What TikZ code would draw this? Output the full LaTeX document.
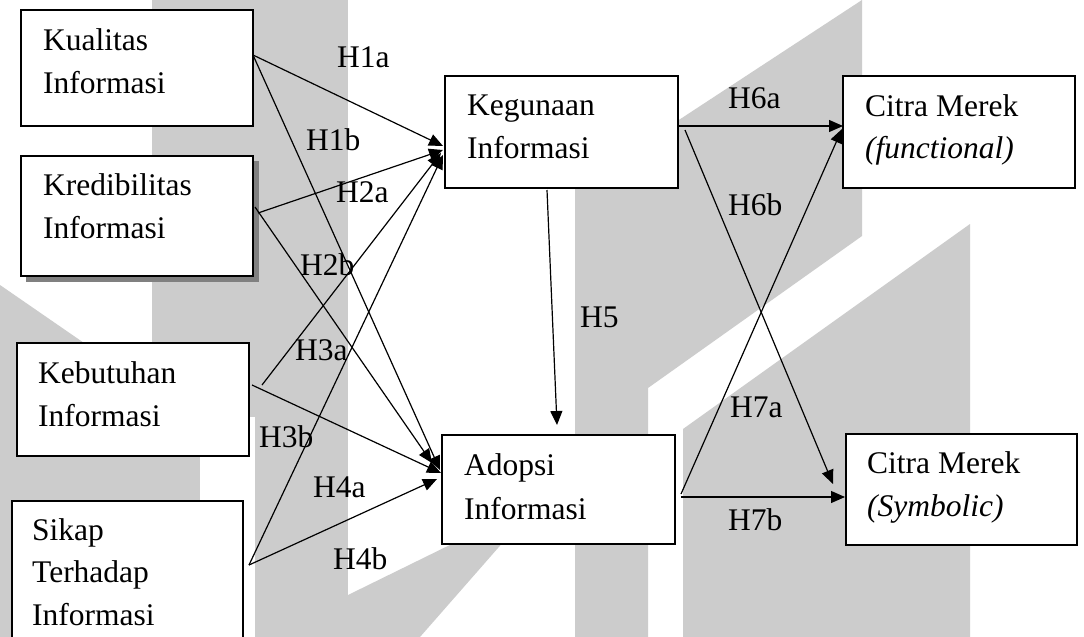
\documentclass[tikz,border=0pt]{standalone}
\usepackage{fontspec}
\setmainfont{Liberation Serif}
\usetikzlibrary{arrows.meta}
\definecolor{wm}{HTML}{CCCCCC}
\definecolor{shadowgray}{HTML}{808080}
\begin{document}
\begin{tikzpicture}[x=1pt,y=-1pt,
  box/.style={draw=black,line width=1.4pt,fill=white,inner sep=0pt},
  txt/.style={anchor=base west,inner sep=0pt,font=\fontsize{31.5}{40}\selectfont},
  arr/.style={line width=1.2pt,-{Triangle[length=14pt,width=12pt]}},
]
\useasboundingbox (0,0) rectangle (1084,637);
\fill[white] (0,0) rectangle (1084,637);
% watermark
\fill[wm] (152,0) rectangle (348,637);
\fill[wm] (0,285) -- (200,423) -- (200,637) -- (0,637) -- cycle;
\fill[white] (200,417) rectangle (255,637);
\fill[wm] (348,595) -- (460,540) -- (505,540) -- (420,637) -- (348,637) -- cycle;
\fill[wm] (575,188) -- (862,0) -- (862,236) -- (648,388) -- (648,637) -- (575,637) -- cycle;
\fill[wm] (683,429) -- (970,224) -- (970,637) -- (683,637) -- cycle;

% shadow of Kredibilitas
\fill[shadowgray] (26,161) rectangle (259,282);

% boxes
\node[box,minimum width=232pt,minimum height=116pt] (kual) at (137,68) {};
\node[box,minimum width=232pt,minimum height=120pt] (kred) at (137,216) {};
\node[box,minimum width=232pt,minimum height=113pt] (kebu) at (133,399.5) {};
\node[box,minimum width=231pt,minimum height=142pt] (sikap) at (127.5,572) {};
\node[box,minimum width=233pt,minimum height=112pt] (keg) at (561.5,132) {};
\node[box,minimum width=232pt,minimum height=112pt] (citf) at (959,132) {};
\node[box,minimum width=233pt,minimum height=109pt] (adop) at (558.5,489.5) {};
\node[box,minimum width=231pt,minimum height=111pt] (cits) at (961.5,489.5) {};

% box texts
\node[txt] (kual1) at (43,50) {Kualitas};
\node[txt] (kual2) at (43,93) {Informasi};
\node[txt] (kred1) at (43,195) {Kredibilitas};
\node[txt] (kred2) at (43,238) {Informasi};
\node[txt] (kebu1) at (38,383) {Kebutuhan};
\node[txt] (kebu2) at (38,426) {Informasi};
\node[txt] (sikap1) at (32,540) {Sikap};
\node[txt] (sikap2) at (32,582) {Terhadap};
\node[txt] (sikap3) at (32,625) {Informasi};
\node[txt] (keg1) at (467,115) {Kegunaan};
\node[txt] (keg2) at (467,158) {Informasi};
\node[txt] (citf1) at (865,116) {Citra Merek};
\node[txt] (citf2) at (865,158) {\itshape (functional)};
\node[txt] (adop1) at (464,475) {Adopsi};
\node[txt] (adop2) at (464,519) {Informasi};
\node[txt] (cits1) at (867,473) {Citra Merek};
\node[txt] (cits2) at (867,516) {\itshape (Symbolic)};

% connector end points
\coordinate (kual-o) at (253,55);
\coordinate (kred-oa) at (258,213);
\coordinate (kred-ob) at (255,207);
\coordinate (kebu-oa) at (262,385);
\coordinate (kebu-ob) at (252,385);
\coordinate (sikap-o) at (249,565);
\coordinate (keg-i1) at (443,146);
\coordinate (keg-i2) at (443,150);
\coordinate (keg-i3) at (441,153);
\coordinate (keg-i4) at (443,155);
\coordinate (adop-i1) at (440,470);
\coordinate (adop-i2) at (432,463);
\coordinate (adop-i3) at (441,473);
\coordinate (adop-i4) at (437,479);
\coordinate (keg-ob) at (547,190);
\coordinate (adop-it) at (557,425);
\coordinate (keg-or) at (679,126);
\coordinate (keg-ox) at (685,130);
\coordinate (citf-i1) at (843,126);
\coordinate (citf-i2) at (842,129);
\coordinate (adop-ox) at (681,494);
\coordinate (adop-or) at (681,497);
\coordinate (cits-i1) at (833,484);
\coordinate (cits-i2) at (845,497);

% connectors
\draw[arr] (kual-o) -- (keg-i1);
\draw[arr] (kual-o) -- (adop-i1);
\draw[arr] (kred-oa) -- (keg-i2);
\draw[arr] (kred-ob) -- (adop-i2);
\draw[arr] (kebu-oa) -- (keg-i3);
\draw[arr] (kebu-ob) -- (adop-i3);
\draw[arr] (sikap-o) -- (adop-i4);
\draw[arr] (sikap-o) -- (keg-i4);
\draw[arr] (keg-ob) -- (adop-it);
\draw[arr] (keg-or) -- (citf-i1);
\draw[arr] (keg-ox) -- (cits-i1);
\draw[arr] (adop-ox) -- (citf-i2);
\draw[arr] (adop-or) -- (cits-i2);

% labels
\node[txt] (h1a) at (337,67) {H1a};
\node[txt] (h1b) at (306,150) {H1b};
\node[txt] (h2a) at (336,202) {H2a};
\node[txt] (h2b) at (300,275) {H2b};
\node[txt] (h3a) at (295,360) {H3a};
\node[txt] (h3b) at (259,447) {H3b};
\node[txt] (h4a) at (313,497) {H4a};
\node[txt] (h4b) at (333,569) {H4b};
\node[txt] (h5) at (580,327) {H5};
\node[txt] (h6a) at (728,108) {H6a};
\node[txt] (h6b) at (728,215) {H6b};
\node[txt] (h7a) at (730,417) {H7a};
\node[txt] (h7b) at (728,530) {H7b};
\end{tikzpicture}
\end{document}
